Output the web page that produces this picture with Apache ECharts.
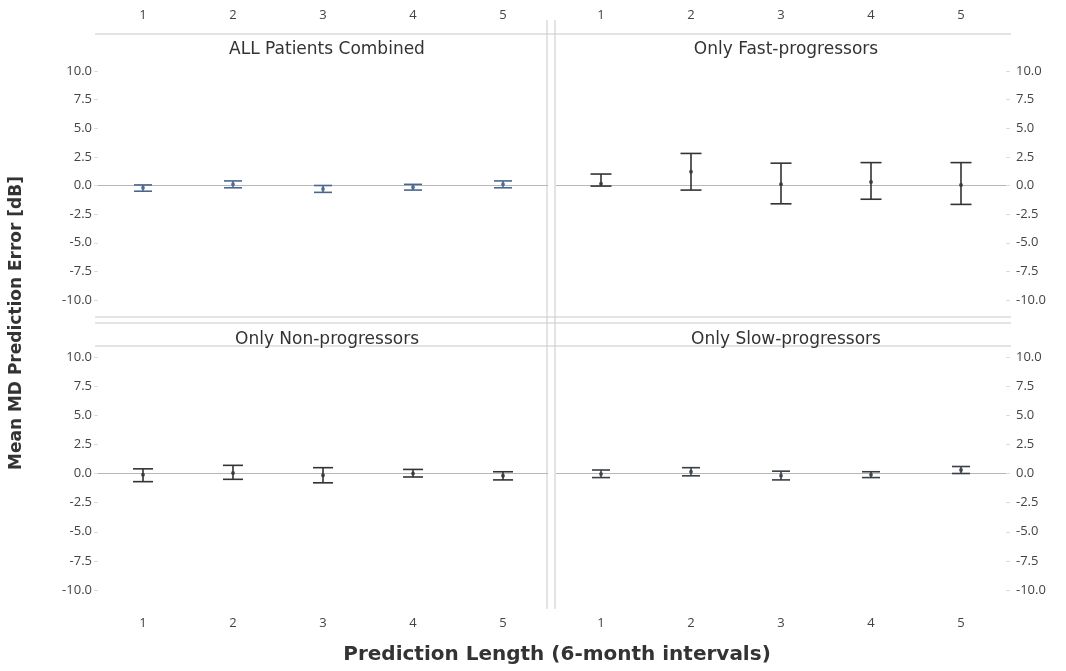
<!DOCTYPE html>
<html>
<head>
<meta charset="utf-8">
<script src="https://cdn.jsdelivr.net/npm/echarts@6/dist/echarts.min.js"></script>
<style>
html,body{margin:0;padding:0;background:#fff;}
#chart{width:1066px;height:671px;}
</style>
</head>
<body>
<div id="chart"></div>
<script>
// ---- data ----
const categories = ['1', '2', '3', '4', '5'];
const panelTitles = ['ALL Patients Combined', 'Only Fast-progressors', 'Only Non-progressors', 'Only Slow-progressors'];
const yTicks = [-10, -7.5, -5, -2.5, 0, 2.5, 5, 7.5, 10];

// mean / lower / upper of MD prediction error per panel
const allMean  = [-0.2, 0.1, -0.3, -0.15, 0.1];
const allLow   = [-0.5, -0.2, -0.6, -0.4, -0.2];
const allHigh  = [0.05, 0.4, 0.0, 0.1, 0.4];

const fastMean = [0.15, 1.2, 0.1, 0.3, 0.05];
const fastLow  = [-0.05, -0.4, -1.6, -1.2, -1.65];
const fastHigh = [1.0, 2.8, 1.95, 2.0, 2.0];

const nonMean  = [-0.1, 0.05, -0.15, 0.0, -0.2];
const nonLow   = [-0.7, -0.5, -0.8, -0.3, -0.55];
const nonHigh  = [0.4, 0.7, 0.5, 0.35, 0.15];

const slowMean = [-0.05, 0.15, -0.2, -0.1, 0.3];
const slowLow  = [-0.35, -0.2, -0.55, -0.35, 0.0];
const slowHigh = [0.3, 0.5, 0.2, 0.15, 0.6];

// ---- build ----
const panels = [
  {mean: allMean, low: allLow, high: allHigh, color: '#4a6690', cap: 18},
  {mean: fastMean, low: fastLow, high: fastHigh, color: '#333', cap: 21},
  {mean: nonMean, low: nonLow, high: nonHigh, color: '#333', cap: 20},
  {mean: slowMean, low: slowLow, high: slowHigh, color: '#3a3f46', cap: 18}
];

const FONT = '"Open Sans", "Noto Sans", sans-serif';
const WIDE = '"DejaVu Sans", "Open Sans", sans-serif';
const gridDefs = [
  {left: 98, top: 71, width: 450, height: 229},
  {left: 556, top: 71, width: 450, height: 229},
  {left: 98, top: 357, width: 450, height: 233},
  {left: 556, top: 357, width: 450, height: 233}
];

const grids = gridDefs.map(g => Object.assign({containLabel: false}, g));

const xAxes = gridDefs.map((g, i) => ({
  type: 'category',
  gridIndex: i,
  data: categories,
  position: i < 2 ? 'top' : 'bottom',
  axisLine: {show: false},
  axisTick: {show: false},
  splitLine: {show: false},
  axisLabel: {
    color: '#444', fontFamily: FONT, fontSize: 13,
    margin: i < 2 ? 49 : 27
  }
}));

const yAxes = gridDefs.map((g, i) => ({
  type: 'value',
  gridIndex: i,
  min: -10, max: 10, interval: 2.5,
  position: (i % 2 === 0) ? 'left' : 'right',
  axisLine: {show: false},
  axisTick: {show: true, length: 4, lineStyle: {color: '#ddd'}},
  splitLine: {show: false},
  axisLabel: {
    color: '#444', fontFamily: FONT, fontSize: 13,
    margin: i % 2 === 0 ? 6 : 10,
    formatter: v => v.toFixed(1)
  }
}));

const series = [];
panels.forEach((p, i) => {
  const errData = categories.map((c, k) => [k, p.low[k], p.high[k]]);
  series.push({
    type: 'custom',
    xAxisIndex: i, yAxisIndex: i,
    data: errData,
    z: 3,
    renderItem: function (params, api) {
      const x = api.value(0);
      const lo = api.coord([x, api.value(1)]);
      const hi = api.coord([x, api.value(2)]);
      const hw = p.cap / 2;
      const st = {stroke: p.color, lineWidth: 1.6};
      return {
        type: 'group',
        children: [
          {type: 'line', shape: {x1: hi[0], y1: hi[1], x2: lo[0], y2: lo[1]}, style: st},
          {type: 'line', shape: {x1: hi[0] - hw, y1: hi[1], x2: hi[0] + hw, y2: hi[1]}, style: st},
          {type: 'line', shape: {x1: lo[0] - hw, y1: lo[1], x2: lo[0] + hw, y2: lo[1]}, style: st}
        ]
      };
    },
    markLine: {
      silent: true, symbol: 'none', z: 1,
      label: {show: false},
      lineStyle: {color: '#b8b8b8', type: 'solid', width: 1},
      data: [{yAxis: 0}]
    }
  });
  series.push({
    type: 'scatter',
    xAxisIndex: i, yAxisIndex: i,
    data: p.mean.map((v, k) => [k, v]),
    symbol: 'circle', symbolSize: 4,
    itemStyle: {color: p.color},
    z: 4
  });
});

const titles = [
  {text: panelTitles[0], left: 322, top: 36},
  {text: panelTitles[1], left: 781, top: 36},
  {text: panelTitles[2], left: 322, top: 326},
  {text: panelTitles[3], left: 781, top: 326}
].map(t => ({
  text: t.text, left: t.left, top: t.top, textAlign: 'center',
  textStyle: {fontFamily: WIDE, fontSize: 17, fontWeight: 'normal', color: '#333'}
}));

const lineColor = '#c9c9c9';
const graphic = [
  {type: 'line', shape: {x1: 95, y1: 34, x2: 1011, y2: 34}, style: {stroke: lineColor, lineWidth: 1}},
  {type: 'line', shape: {x1: 95, y1: 317, x2: 1011, y2: 317}, style: {stroke: lineColor, lineWidth: 1}},
  {type: 'line', shape: {x1: 95, y1: 323, x2: 1011, y2: 323}, style: {stroke: lineColor, lineWidth: 1}},
  {type: 'line', shape: {x1: 95, y1: 346, x2: 1011, y2: 346}, style: {stroke: lineColor, lineWidth: 1}},
  {type: 'line', shape: {x1: 547, y1: 20, x2: 547, y2: 609}, style: {stroke: lineColor, lineWidth: 1}},
  {type: 'line', shape: {x1: 555, y1: 20, x2: 555, y2: 609}, style: {stroke: lineColor, lineWidth: 1}},
  {type: 'text', x: 557, y: 655,
   style: {text: 'Prediction Length (6-month intervals)', fontFamily: WIDE, fontSize: 20, fontWeight: 'bold', fill: '#333', textAlign: 'center', textVerticalAlign: 'middle'}},
  {type: 'text', x: 17, y: 323, rotation: Math.PI / 2,
   style: {text: 'Mean MD Prediction Error [dB]', fontFamily: WIDE, fontSize: 17, fontWeight: 'bold', fill: '#333', textAlign: 'center', textVerticalAlign: 'middle'}}
];

const chart = echarts.init(document.getElementById('chart'), null, {renderer: 'canvas'});
chart.setOption({
  backgroundColor: '#fff',
  animation: false,
  title: titles,
  grid: grids,
  xAxis: xAxes,
  yAxis: yAxes,
  series: series,
  graphic: graphic
});
</script>
</body>
</html>
